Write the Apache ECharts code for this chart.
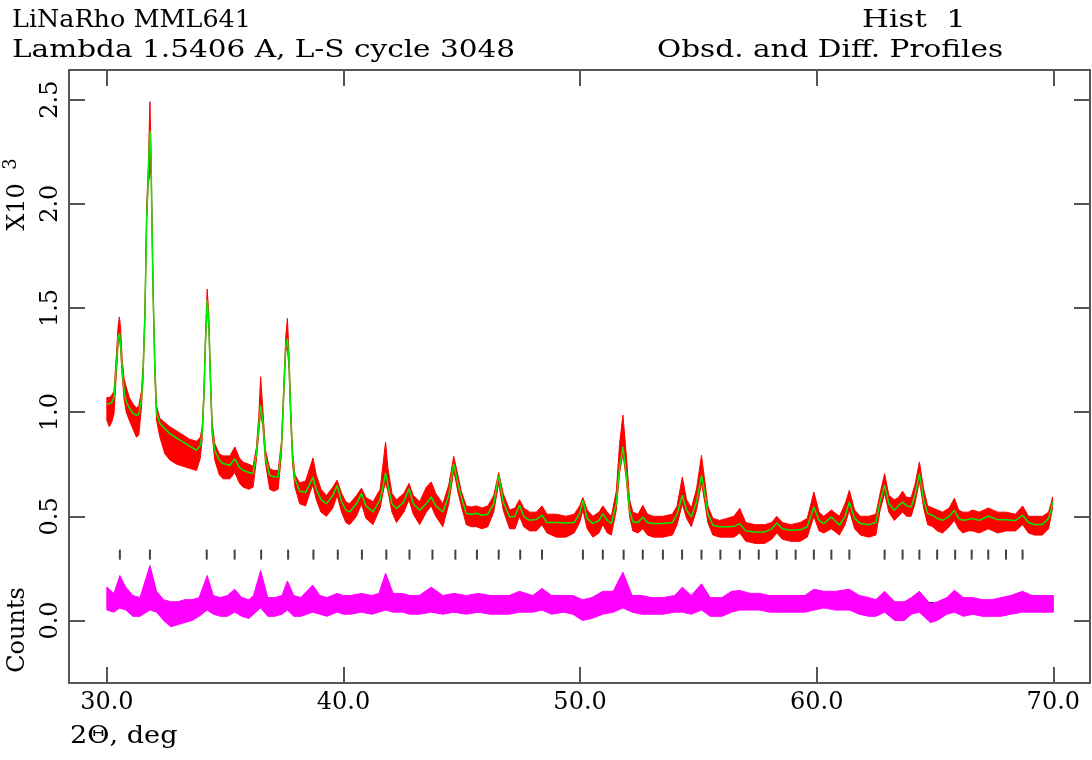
<!DOCTYPE html>
<html><head><meta charset="utf-8">
<script src="https://cdn.jsdelivr.net/npm/echarts@6/dist/echarts.min.js"></script>
<style>html,body{margin:0;padding:0;background:#fff}#c{width:1092px;height:760px}</style>
</head><body><div id="c"></div>
<script>
// ---- data (intensities in units of 10^3 counts) ----
const xTicks = [30, 40, 50, 60, 70];
const yTicks = [0, 0.5, 1.0, 1.5, 2.0, 2.5];

const calcX = [30.00,30.10,30.20,30.30,30.40,30.48,30.53,30.58,30.65,30.73,30.82,30.95,31.10,31.25,31.35,31.46,31.53,31.61,31.68,31.75,31.82,31.87,31.91,31.96,32.03,32.10,32.24,32.45,32.66,32.95,33.22,33.50,33.79,33.95,34.03,34.10,34.17,34.24,34.31,34.38,34.45,34.56,34.75,34.91,35.20,35.41,35.60,35.76,36.00,36.18,36.32,36.42,36.50,36.60,36.70,36.88,37.05,37.24,37.38,37.48,37.56,37.63,37.70,37.77,37.85,37.95,38.15,38.40,38.60,38.71,38.85,39.05,39.28,39.55,39.73,39.92,40.10,40.26,40.55,40.76,40.95,41.25,41.55,41.70,41.78,41.88,42.05,42.24,42.55,42.77,42.95,43.22,43.50,43.71,43.90,44.20,44.45,44.66,44.85,44.98,45.19,45.40,45.62,45.85,46.10,46.35,46.56,46.75,47.02,47.25,47.44,47.62,47.87,48.15,48.39,48.60,49.00,49.40,49.75,49.98,50.12,50.30,50.54,50.80,50.96,51.15,51.32,51.53,51.67,51.81,51.95,52.09,52.23,52.45,52.65,52.85,53.10,53.50,53.90,54.10,54.32,54.50,54.70,54.92,55.13,55.28,55.40,55.61,55.90,56.20,56.50,56.75,57.00,57.40,57.80,58.10,58.31,58.55,58.90,59.30,59.60,59.88,60.10,60.30,60.62,60.96,61.20,61.38,61.60,61.85,62.20,62.50,62.68,62.87,63.05,63.28,63.45,63.63,63.80,63.99,64.15,64.34,64.52,64.69,64.90,65.10,65.32,65.60,65.82,66.00,66.17,66.40,66.59,66.87,67.25,67.65,68.00,68.40,68.70,68.95,69.20,69.54,69.80,69.90,69.97];
const calcY = [1.040,1.040,1.045,1.070,1.220,1.360,1.378,1.330,1.200,1.100,1.050,1.020,0.995,0.985,0.990,1.060,1.190,1.470,1.920,2.130,2.350,2.200,1.875,1.550,1.200,0.995,0.946,0.920,0.897,0.875,0.857,0.837,0.817,0.840,0.900,1.074,1.346,1.538,1.426,1.154,0.913,0.817,0.770,0.753,0.745,0.777,0.735,0.721,0.710,0.705,0.800,0.929,1.034,0.946,0.785,0.697,0.690,0.689,0.833,1.106,1.314,1.354,1.234,0.994,0.780,0.680,0.620,0.615,0.660,0.689,0.630,0.580,0.561,0.600,0.649,0.570,0.530,0.521,0.560,0.609,0.550,0.521,0.580,0.660,0.708,0.650,0.560,0.537,0.570,0.633,0.560,0.529,0.560,0.593,0.550,0.521,0.600,0.753,0.650,0.593,0.513,0.510,0.515,0.505,0.510,0.560,0.697,0.570,0.497,0.500,0.553,0.500,0.481,0.485,0.505,0.470,0.470,0.468,0.470,0.513,0.577,0.490,0.465,0.480,0.513,0.480,0.465,0.561,0.737,0.833,0.705,0.529,0.473,0.470,0.497,0.470,0.465,0.465,0.470,0.510,0.601,0.530,0.497,0.570,0.697,0.600,0.513,0.457,0.450,0.450,0.452,0.465,0.430,0.425,0.425,0.440,0.468,0.440,0.433,0.435,0.450,0.545,0.480,0.465,0.497,0.457,0.500,0.569,0.490,0.465,0.460,0.470,0.570,0.649,0.560,0.529,0.550,0.569,0.550,0.545,0.600,0.705,0.580,0.513,0.505,0.490,0.481,0.500,0.529,0.490,0.481,0.485,0.489,0.481,0.500,0.484,0.484,0.480,0.505,0.470,0.461,0.461,0.490,0.530,0.569];
const obsLo = [0.960,0.930,0.950,0.990,1.180,1.330,1.360,1.300,1.170,1.060,1.000,0.960,0.920,0.880,0.890,1.020,1.150,1.450,1.900,2.100,2.140,2.150,1.850,1.520,1.170,0.960,0.880,0.800,0.770,0.750,0.740,0.730,0.720,0.780,0.870,1.050,1.330,1.500,1.400,1.120,0.890,0.770,0.700,0.680,0.680,0.710,0.660,0.640,0.630,0.640,0.770,0.900,1.000,0.920,0.760,0.630,0.620,0.630,0.800,1.080,1.290,1.310,1.200,0.960,0.750,0.640,0.560,0.550,0.620,0.650,0.580,0.520,0.500,0.540,0.600,0.520,0.470,0.460,0.500,0.560,0.490,0.460,0.540,0.630,0.660,0.620,0.520,0.470,0.520,0.580,0.510,0.460,0.520,0.550,0.500,0.450,0.560,0.720,0.610,0.550,0.460,0.450,0.450,0.440,0.450,0.520,0.660,0.530,0.440,0.440,0.500,0.450,0.430,0.430,0.460,0.420,0.400,0.400,0.420,0.470,0.530,0.440,0.400,0.420,0.460,0.420,0.410,0.530,0.710,0.800,0.680,0.500,0.430,0.420,0.440,0.410,0.400,0.400,0.410,0.460,0.560,0.490,0.450,0.530,0.660,0.560,0.470,0.410,0.400,0.400,0.400,0.420,0.380,0.370,0.370,0.390,0.420,0.390,0.380,0.380,0.400,0.500,0.430,0.420,0.440,0.410,0.460,0.530,0.440,0.410,0.400,0.410,0.530,0.610,0.520,0.480,0.500,0.520,0.500,0.500,0.560,0.670,0.540,0.460,0.450,0.430,0.420,0.450,0.480,0.440,0.420,0.430,0.430,0.420,0.440,0.420,0.430,0.430,0.460,0.420,0.410,0.410,0.440,0.500,0.540];
const obsHi = [1.070,1.070,1.080,1.100,1.270,1.420,1.457,1.400,1.250,1.160,1.120,1.070,1.040,1.020,1.030,1.100,1.220,1.500,1.980,2.180,2.490,2.250,1.920,1.580,1.240,1.030,0.970,0.950,0.930,0.910,0.890,0.870,0.860,0.880,0.930,1.100,1.380,1.590,1.470,1.180,0.950,0.850,0.800,0.790,0.790,0.833,0.780,0.760,0.750,0.740,0.830,0.980,1.170,1.000,0.820,0.730,0.720,0.720,0.860,1.140,1.360,1.450,1.280,1.030,0.810,0.700,0.660,0.670,0.740,0.780,0.700,0.630,0.600,0.640,0.673,0.610,0.570,0.560,0.600,0.635,0.590,0.570,0.630,0.780,0.857,0.730,0.610,0.580,0.610,0.658,0.600,0.570,0.640,0.665,0.610,0.560,0.650,0.788,0.690,0.620,0.550,0.545,0.550,0.540,0.550,0.600,0.710,0.610,0.530,0.540,0.580,0.540,0.520,0.520,0.550,0.510,0.510,0.500,0.510,0.550,0.590,0.530,0.500,0.520,0.550,0.520,0.500,0.620,0.850,0.986,0.800,0.580,0.520,0.510,0.553,0.510,0.500,0.500,0.510,0.550,0.689,0.580,0.540,0.630,0.793,0.660,0.550,0.490,0.480,0.490,0.500,0.538,0.470,0.460,0.460,0.470,0.500,0.470,0.460,0.470,0.490,0.617,0.520,0.500,0.530,0.500,0.560,0.625,0.530,0.500,0.500,0.510,0.610,0.705,0.600,0.580,0.590,0.620,0.590,0.590,0.650,0.761,0.630,0.550,0.540,0.530,0.520,0.540,0.587,0.530,0.520,0.520,0.530,0.520,0.540,0.520,0.520,0.510,0.550,0.500,0.500,0.500,0.520,0.560,0.593];

const diffX  = [30.0,30.3,30.55,30.8,31.1,31.4,31.82,32.1,32.4,32.7,33.0,33.3,33.6,33.9,34.24,34.5,34.8,35.1,35.4,35.7,36.0,36.2,36.5,36.8,37.1,37.4,37.63,37.9,38.2,38.7,39.0,39.3,39.73,40.0,40.3,40.76,41.2,41.5,41.78,42.1,42.5,42.8,43.2,43.71,44.2,44.66,45.2,45.7,46.2,46.56,47.0,47.44,48.0,48.39,48.8,49.3,49.7,50.1,50.5,50.96,51.4,51.81,52.2,52.6,53.0,53.5,54.0,54.32,54.7,55.13,55.5,56.0,56.4,56.75,57.2,57.6,58.0,58.5,59.0,59.5,59.88,60.3,60.8,61.38,61.8,62.2,62.5,62.87,63.3,63.7,64.0,64.34,64.8,65.1,65.5,65.82,66.2,66.6,67.0,67.4,67.8,68.2,68.7,69.1,69.5,70.0];
const diffLo = [0.05,0.04,0.06,0.05,0.02,0.02,0.05,0.04,0.00,-0.03,-0.02,-0.01,0.00,0.02,0.05,0.03,0.02,0.02,0.04,0.02,0.01,0.03,0.06,0.02,0.02,0.03,0.05,0.02,0.02,0.04,0.03,0.02,0.04,0.03,0.03,0.04,0.03,0.04,0.05,0.04,0.04,0.03,0.03,0.04,0.03,0.04,0.03,0.04,0.03,0.03,0.03,0.04,0.04,0.05,0.03,0.04,0.03,0.00,0.01,0.03,0.04,0.06,0.04,0.03,0.03,0.03,0.04,0.04,0.03,0.05,0.02,0.02,0.04,0.05,0.05,0.05,0.04,0.04,0.04,0.04,0.05,0.06,0.05,0.05,0.03,0.02,0.02,0.04,0.00,0.00,0.03,0.04,-0.01,0.00,0.03,0.04,0.02,0.03,0.02,0.02,0.02,0.03,0.04,0.04,0.04,0.04];
const diffHi = [0.16,0.13,0.216,0.16,0.12,0.11,0.264,0.14,0.10,0.09,0.09,0.10,0.10,0.11,0.216,0.12,0.11,0.12,0.15,0.11,0.10,0.12,0.24,0.11,0.11,0.12,0.19,0.12,0.11,0.17,0.12,0.11,0.13,0.12,0.12,0.13,0.12,0.13,0.227,0.13,0.13,0.12,0.12,0.16,0.12,0.13,0.12,0.13,0.12,0.12,0.12,0.14,0.12,0.154,0.12,0.12,0.12,0.10,0.11,0.14,0.14,0.232,0.12,0.12,0.11,0.11,0.12,0.16,0.12,0.176,0.11,0.11,0.14,0.144,0.13,0.13,0.12,0.12,0.12,0.12,0.15,0.14,0.14,0.15,0.12,0.11,0.10,0.14,0.09,0.09,0.11,0.14,0.08,0.09,0.11,0.145,0.11,0.11,0.10,0.10,0.11,0.12,0.14,0.12,0.12,0.12];
const diffBase = 0.085;

const reflPos = [30.55,31.82,34.22,35.40,36.52,37.66,38.73,39.76,40.78,41.81,42.79,43.76,44.73,45.64,46.56,47.47,48.39,50.12,50.96,51.84,52.65,53.50,54.31,55.13,55.93,56.75,57.55,58.31,59.11,59.88,60.62,61.38,62.87,63.63,64.34,65.09,65.85,66.55,67.25,68.00,68.70];
const reflLevel = 0.316;

// ---- chart ----
const FONT = '"DejaVu Serif", "Liberation Serif", serif';
const FRAME = '#555555';

function band(xs, lo, hi, color, z) {
  return {
    type: 'custom', coordinateSystem: 'cartesian2d', silent: true, z: z,
    data: xs.map((x, i) => [x, lo[i], hi[i]]),
    encode: { x: 0, y: [1, 2] },
    renderItem: (params, api) => {
      if (params.dataIndex !== 0) return null;
      const pts = [];
      for (let i = 0; i < xs.length; i++) pts.push(api.coord([xs[i], hi[i]]));
      for (let i = xs.length - 1; i >= 0; i--) pts.push(api.coord([xs[i], lo[i]]));
      return { type: 'polygon', shape: { points: pts }, style: { fill: color, stroke: color, lineWidth: 1 } };
    }
  };
}

const axisCommon = {
  type: 'value', splitLine: { show: false },
  axisLine: { show: true, onZero: false, lineStyle: { color: FRAME, width: 2 } },
  axisTick: { show: true, inside: true, length: 16, lineStyle: { color: FRAME, width: 2 } }
};

function label(txt, x, y, sx, opts) {
  return Object.assign({
    type: 'text', x: x, y: y, scaleX: sx, originX: 0, originY: 0,
    style: { text: txt, font: '24px ' + FONT, fill: '#000', textVerticalAlign: 'middle', verticalAlign: 'middle' }
  }, opts || {});
}

const option = {
  animation: false,
  backgroundColor: '#ffffff',
  grid: { left: 69, right: 2, top: 70, bottom: 77, containLabel: false },
  xAxis: [
    Object.assign({}, axisCommon, {
      min: 28.4, max: 71.55, position: 'bottom',
      axisTick: Object.assign({}, axisCommon.axisTick, { customValues: xTicks }),
      axisLabel: { customValues: xTicks, formatter: v => v.toFixed(1), fontFamily: FONT, fontSize: 24, color: '#000', margin: 8 }
    }),
    Object.assign({}, axisCommon, {
      min: 28.4, max: 71.55, position: 'top',
      axisTick: Object.assign({}, axisCommon.axisTick, { customValues: xTicks }),
      axisLabel: { show: false }
    })
  ],
  yAxis: [
    Object.assign({}, axisCommon, {
      min: -0.3, max: 2.642, position: 'left',
      axisTick: Object.assign({}, axisCommon.axisTick, { customValues: yTicks }),
      axisLabel: { customValues: yTicks, rotate: 90, formatter: v => v.toFixed(1), fontFamily: FONT, fontSize: 24, color: '#000', margin: 6 }
    }),
    Object.assign({}, axisCommon, {
      min: -0.3, max: 2.642, position: 'right',
      axisTick: Object.assign({}, axisCommon.axisTick, { customValues: yTicks }),
      axisLabel: { show: false }
    })
  ],
  series: [
    {
      type: 'line', data: [[30, diffBase], [70, diffBase]], showSymbol: false, silent: true, z: 1,
      lineStyle: { color: '#222', width: 1.5, type: [12, 5, 2, 5] }
    },
    band(diffX, diffLo, diffHi, '#ff00ff', 2),
    band(calcX, obsLo, obsHi, '#ff0000', 2),
    {
      type: 'line', data: calcX.map((x, i) => [x, calcY[i]]), showSymbol: false, silent: true, z: 3,
      lineStyle: { color: '#00ee00', width: 1.5 }
    },
    {
      type: 'scatter', data: reflPos.map(x => [x, reflLevel]), symbol: 'rect', symbolSize: [2, 10],
      itemStyle: { color: '#111' }, silent: true, z: 3
    }
  ],
  graphic: [
    label('LiNaRho MML641', 12, 21, 1.06),
    label('Lambda 1.5406 A, L-S cycle 3048', 12, 51, 1.23),
    label('Hist  1', 862, 21, 1.28),
    label('Obsd. and Diff. Profiles', 657, 51, 1.23),
    label('2\u0398, deg', 70, 737, 1.13),
    { type: 'text', x: 18, y: 630, rotation: Math.PI / 2, style: { text: 'Counts', font: '24px ' + FONT, fill: '#000', textAlign: 'center', align: 'center', textVerticalAlign: 'middle', verticalAlign: 'middle' } },
    { type: 'text', x: 18, y: 207, rotation: Math.PI / 2, style: { text: 'X10', font: '24px ' + FONT, fill: '#000', textAlign: 'center', align: 'center', textVerticalAlign: 'middle', verticalAlign: 'middle' } },
    { type: 'text', x: 11, y: 164, rotation: Math.PI / 2, style: { text: '3', font: '18px ' + FONT, fill: '#000', textAlign: 'center', align: 'center', textVerticalAlign: 'middle', verticalAlign: 'middle' } }
  ]
};

const chart = echarts.init(document.getElementById('c'), null, { renderer: 'canvas' });
chart.setOption(option);
</script>
</body></html>
